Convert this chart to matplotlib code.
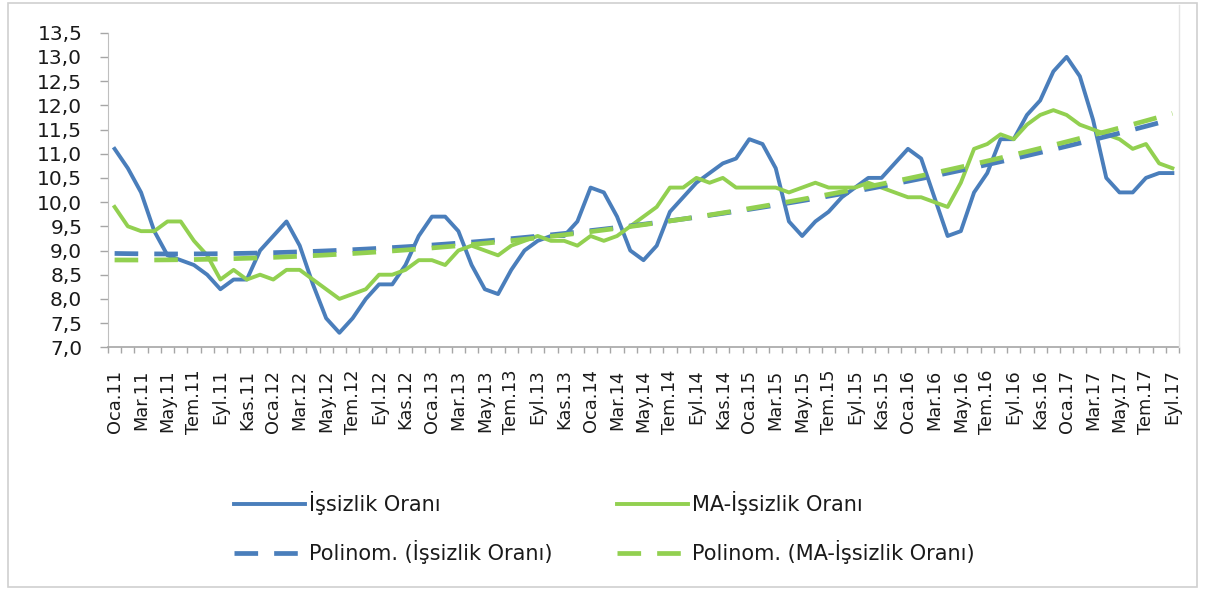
import numpy as np
import matplotlib
matplotlib.use("Agg")
import matplotlib.pyplot as plt
from matplotlib.lines import Line2D
from matplotlib.patches import Rectangle

months = ["Oca", "Şub", "Mar", "Nis", "May", "Haz", "Tem", "Ağu", "Eyl", "Eki", "Kas", "Ara"]
years = ["11", "12", "13", "14", "15", "16", "17"]
categories = [f"{m}.{y}" for y in years for m in months][:81]

issizlik = [11.1, 10.7, 10.2, 9.4, 8.9, 8.8, 8.7, 8.5, 8.2, 8.4, 8.4, 9.0,
            9.3, 9.6, 9.1, 8.3, 7.6, 7.3, 7.6, 8.0, 8.3, 8.3, 8.7, 9.3,
            9.7, 9.7, 9.4, 8.7, 8.2, 8.1, 8.6, 9.0, 9.2, 9.3, 9.3, 9.6,
            10.3, 10.2, 9.7, 9.0, 8.8, 9.1, 9.8, 10.1, 10.4, 10.6, 10.8, 10.9,
            11.3, 11.2, 10.7, 9.6, 9.3, 9.6, 9.8, 10.1, 10.3, 10.5, 10.5, 10.8,
            11.1, 10.9, 10.1, 9.3, 9.4, 10.2, 10.6, 11.3, 11.3, 11.8, 12.1, 12.7,
            13.0, 12.6, 11.7, 10.5, 10.2, 10.2, 10.5, 10.6, 10.6]

ma_issizlik = [9.9, 9.5, 9.4, 9.4, 9.6, 9.6, 9.2, 8.9, 8.4, 8.6, 8.4, 8.5,
               8.4, 8.6, 8.6, 8.4, 8.2, 8.0, 8.1, 8.2, 8.5, 8.5, 8.6, 8.8,
               8.8, 8.7, 9.0, 9.1, 9.0, 8.9, 9.1, 9.2, 9.3, 9.2, 9.2, 9.1,
               9.3, 9.2, 9.3, 9.5, 9.7, 9.9, 10.3, 10.3, 10.5, 10.4, 10.5, 10.3,
               10.3, 10.3, 10.3, 10.2, 10.3, 10.4, 10.3, 10.3, 10.3, 10.4, 10.3, 10.2,
               10.1, 10.1, 10.0, 9.9, 10.4, 11.1, 11.2, 11.4, 11.3, 11.6, 11.8, 11.9,
               11.8, 11.6, 11.5, 11.4, 11.3, 11.1, 11.2, 10.8, 10.7]

labels = ["İşsizlik Oranı", "MA-İşsizlik Oranı",
          "Polinom. (İşsizlik Oranı)", "Polinom. (MA-İşsizlik Oranı)"]

BLUE = "#4a7ebb"
GREEN = "#92d050"

x = np.arange(len(categories))
y1 = np.array(issizlik)
y2 = np.array(ma_issizlik)
trend1 = np.polyval(np.polyfit(x + 1, y1, 2), x + 1)
trend2 = np.polyval(np.polyfit(x + 1, y2, 2), x + 1)

W, H = 1205, 590
fig = plt.figure(figsize=(W / 100, H / 100), dpi=100)
ax = fig.add_axes([108 / W, 1 - 347.3 / H, (1179 - 108) / W, (347.3 - 32.7) / H])

l1, = ax.plot(x, y1, color=BLUE, lw=2.8, solid_joinstyle="round", zorder=3)
l2, = ax.plot(x, y2, color=GREEN, lw=2.8, solid_joinstyle="round", zorder=4)
t1, = ax.plot(x, trend1, color=BLUE, lw=3.4, ls=(0, (5.0, 3.4)), zorder=5)
t2, = ax.plot(x, trend2, color=GREEN, lw=3.4, ls=(0, (5.0, 3.4)), zorder=6)

ax.set_xlim(-0.5, len(categories) - 0.5)
ax.set_ylim(7.0, 13.5)
yt = np.arange(7.0, 13.51, 0.5)
ax.set_yticks(yt)
ax.set_yticklabels([f"{v:.1f}".replace(".", ",") for v in yt])
ax.tick_params(axis="y", length=6, width=1, color="#a6a6a6", pad=12.5,
               labelsize=14.5, labelcolor="#1a1a1a")

ax.set_xticks(np.arange(-0.5, len(categories), 1.0))
ax.set_xticklabels([])
ax.tick_params(axis="x", which="major", length=4.5, width=1, color="#a6a6a6")
ax.set_xticks(x[::2], minor=True)
ax.set_xticklabels(categories[::2], minor=True, rotation=90, va="top", ha="center")
ax.tick_params(axis="x", which="minor", length=0, pad=16, labelsize=12.8,
               labelcolor="#1a1a1a")

for s in ["top", "right"]:
    ax.spines[s].set_visible(False)
ax.spines["left"].set_color("#bfbfbf")
ax.spines["bottom"].set_color("#a6a6a6")
ax.spines["bottom"].set_linewidth(1.2)

leg = fig.legend([l1, t1, l2, t2], [labels[0], labels[2], labels[1], labels[3]],
                 ncol=2, loc="upper left", bbox_to_anchor=(234 / W, 1 - 491 / H),
                 frameon=False, fontsize=15, handlelength=3.4, handletextpad=0.2,
                 labelspacing=1.2, columnspacing=3.1, borderpad=0, borderaxespad=0)
for t in leg.get_texts():
    t.set_color("#1a1a1a")

fig.patches.append(Rectangle((8 / W, 3 / H), (1197 - 8) / W, (587 - 3) / H,
                             transform=fig.transFigure, fill=False,
                             ec="#d0d0d0", lw=1.2))
fig.lines.append(Line2D([1179 / W, 1179 / W], [1 - 347 / H, 1 - 5 / H],
                        transform=fig.transFigure, color="#e3e3e3", lw=1))

fig.savefig("out.png", dpi=100)
